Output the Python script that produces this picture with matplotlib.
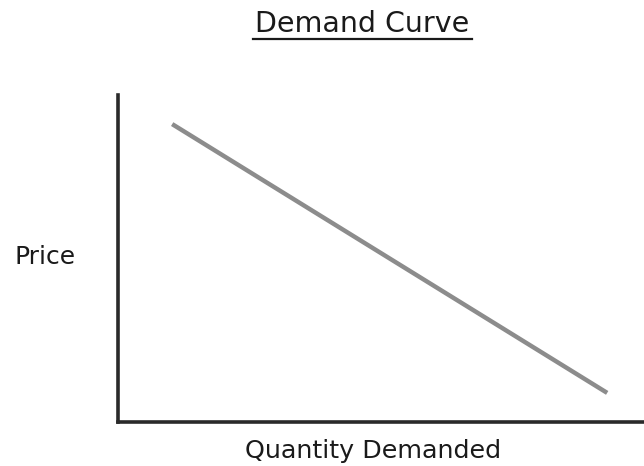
import numpy as np
import matplotlib.pyplot as plt
from matplotlib.lines import Line2D

plt.rcParams['font.family'] = ['DejaVu Sans']

# Demand curve endpoints (quantity, price)
quantity = [1.03, 9.30]
price = [9.11, 0.89]

W, H = 644, 466
fig = plt.figure(figsize=(W / 100, H / 100), dpi=100)
ax = fig.add_axes([118 / W, 44 / H, (W - 118) / W, (422 - 95) / H])

ax.plot(quantity, price, color="#8c8c8c", linewidth=3.2, solid_capstyle="butt")
ax.set_xlim(0, 10)
ax.set_ylim(0, 10)

for side in ("top", "right"):
    ax.spines[side].set_visible(False)
for side in ("left", "bottom"):
    ax.spines[side].set_linewidth(2.6)
    ax.spines[side].set_color("#2a2a2a")
ax.set_xticks([])
ax.set_yticks([])

# Title with underline
fig.text(362 / W, 1 - 24 / H, "Demand Curve", ha="center", va="center",
         fontsize=20.5, color="#1a1a1a")
fig.add_artist(Line2D([253 / W, 472 / W], [1 - 38.5 / H, 1 - 38.5 / H],
                      color="#1a1a1a", linewidth=1.6))

fig.text(45 / W, 1 - 257 / H, "Price", ha="center", va="center",
         fontsize=18, color="#1a1a1a")
fig.text(373 / W, 1 - 451 / H, "Quantity Demanded", ha="center", va="center",
         fontsize=18.3, color="#1a1a1a")

fig.savefig("out.png", dpi=100)
